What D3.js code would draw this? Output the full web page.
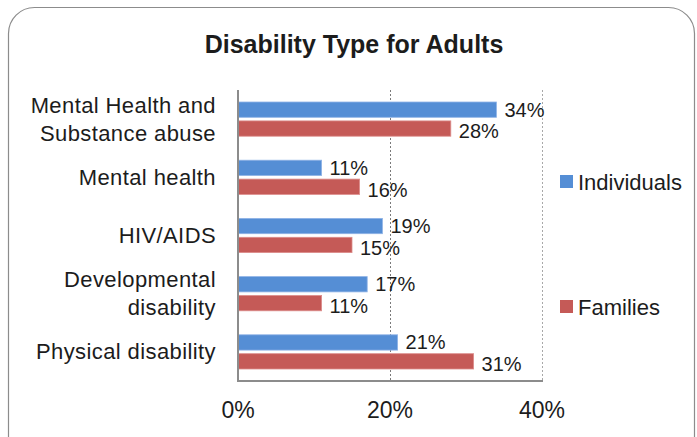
<!DOCTYPE html>
<html>
<head>
<meta charset="utf-8">
<script src="https://cdn.jsdelivr.net/npm/d3@7"></script>
<style>
  html, body { margin: 0; padding: 0; background: #fff; }
  svg { display: block; }
  text { font-family: "Helvetica Neue", "Liberation Sans", Arial, sans-serif; fill: #1c1c1c; }
</style>
</head>
<body>
<svg id="chart" width="697" height="437"></svg>
<script>
// Disability type shares for adults, by household type
const categories = [
  ["Mental Health and", "Substance abuse"],
  ["Mental health"],
  ["HIV/AIDS"],
  ["Developmental", "disability"],
  ["Physical disability"]
];
const seriesNames = ["Individuals", "Families"];
const individuals = [34, 11, 19, 17, 21];
const families = [28, 16, 15, 11, 31];
const xTicks = [0, 20, 40];
const colors = ["#558ED5", "#C55A57"];

const svg = d3.select("#chart");

// outer rounded frame
svg.append("rect")
  .attr("x", 8.5).attr("y", 7.5)
  .attr("width", 686).attr("height", 460)
  .attr("rx", 26).attr("ry", 26)
  .attr("fill", "#fff").attr("stroke", "#8c8c8c").attr("stroke-width", 1.2);

svg.append("text")
  .attr("x", 354).attr("y", 53)
  .attr("text-anchor", "middle")
  .attr("font-size", 25).attr("font-weight", 700)
  .text("Disability Type for Adults");

const plotLeft = 238, plotRight = 542, plotTop = 90, plotBottom = 381;

const x = d3.scaleLinear().domain([0, 40]).range([plotLeft, plotRight]);
const y = d3.scaleBand().domain(d3.range(categories.length)).range([plotTop, plotBottom]);
const barH = 15.3, barGap = 3.6;
const barY = d => y(d.i) + y.bandwidth() / 2 - barH - barGap / 2 + d.s * (barH + barGap);

// gridlines
svg.append("g").selectAll("line")
  .data(xTicks.filter(t => t > 0))
  .join("line")
  .attr("x1", d => x(d) + 0.5).attr("x2", d => x(d) + 0.5)
  .attr("y1", plotTop).attr("y2", plotBottom)
  .attr("stroke", (d, i) => i === 0 ? "#7a7a7a" : "#a8a8a8")
  .attr("stroke-width", 1)
  .attr("stroke-dasharray", "2,2");

const data = categories.map((c, i) => ({ i, values: [individuals[i], families[i]] }));

const groups = svg.append("g").selectAll("g")
  .data(data)
  .join("g");

groups.selectAll("rect")
  .data(d => d.values.map((v, s) => ({ i: d.i, s, v })))
  .join("rect")
  .attr("x", x(0))
  .attr("y", barY)
  .attr("width", d => x(d.v) - x(0))
  .attr("height", barH)
  .attr("fill", d => colors[d.s])
  .attr("stroke", d => d.s === 0 ? "#8fb3e6" : "#dc8d8b")
  .attr("stroke-width", 0.8);

groups.selectAll("text.val")
  .data(d => d.values.map((v, s) => ({ i: d.i, s, v })))
  .join("text")
  .attr("class", "val")
  .attr("x", d => x(d.v) + 8)
  .attr("y", d => barY(d) + (d.s === 0 ? 14.5 : 17.5))
  .attr("font-size", 20)
  .text(d => d.v + "%");

// axis lines
svg.append("line")
  .attr("x1", plotLeft).attr("x2", plotLeft).attr("y1", plotTop).attr("y2", plotBottom + 1)
  .attr("stroke", "#8c8c8c").attr("stroke-width", 2);
svg.append("line")
  .attr("x1", plotLeft).attr("x2", plotRight + 1).attr("y1", plotBottom).attr("y2", plotBottom)
  .attr("stroke", "#8c8c8c").attr("stroke-width", 2);

// x tick labels
svg.append("g").selectAll("text")
  .data(xTicks)
  .join("text")
  .attr("x", d => x(d))
  .attr("y", 418)
  .attr("text-anchor", "middle")
  .attr("font-size", 23)
  .text(d => d + "%");

// category labels
const cat = svg.append("g").selectAll("text")
  .data(categories)
  .join("text")
  .attr("text-anchor", "end")
  .attr("font-size", 22)
  .attr("letter-spacing", 0.4)
  .attr("y", (d, i) => y(i) + y.bandwidth() / 2 + 7.5 - (d.length - 1) * 14);
cat.selectAll("tspan")
  .data(d => d)
  .join("tspan")
  .attr("x", 216)
  .attr("dy", (d, j) => j === 0 ? 0 : 28)
  .text(d => d);

// legend
const legendY = [175, 300];
const legend = svg.append("g").selectAll("g")
  .data(seriesNames)
  .join("g")
  .attr("transform", (d, i) => `translate(560,${legendY[i]})`);
legend.append("rect")
  .attr("x", 0).attr("y", 0).attr("width", 13).attr("height", 13)
  .attr("fill", (d, i) => colors[i]);
legend.append("text")
  .attr("x", 18).attr("y", 15)
  .attr("font-size", 22)
  .text(d => d);
</script>
</body>
</html>
